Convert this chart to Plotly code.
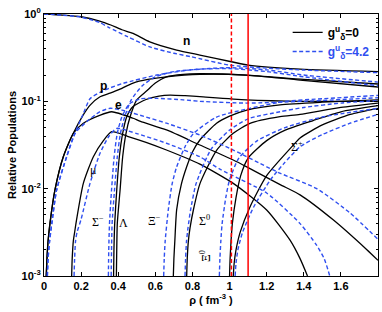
import plotly.graph_objects as go

# ---------------- data (x = density fm^-3, y = relative population) ----------------
n_black_x = [0, 0.1, 0.2, 0.3, 0.36, 0.42, 0.48, 0.57, 0.715, 0.84, 1.01, 1.1, 1.38, 1.8]
n_black_y = [1.0, 0.973, 0.93, 0.83, 0.748, 0.66, 0.60, 0.48, 0.387, 0.339, 0.284, 0.26, 0.234, 0.219]
n_blue_x = [0, 0.1, 0.2, 0.3, 0.35, 0.45, 0.57, 0.7, 0.79, 1.0, 1.2, 1.4, 1.8]
n_blue_y = [1.0, 0.97, 0.92, 0.80, 0.70, 0.55, 0.42, 0.355, 0.325, 0.26, 0.24, 0.228, 0.213]

p_black_x = [0.012, 0.016, 0.022, 0.032, 0.059, 0.104, 0.158, 0.21, 0.25, 0.30, 0.356, 0.40, 0.48, 0.56, 0.66, 0.84, 1.09, 1.38, 1.8]
p_black_y = [0.001, 0.00158, 0.00251, 0.00398, 0.00966, 0.0232, 0.0431, 0.0692, 0.0912, 0.112, 0.124, 0.135, 0.162, 0.178, 0.191, 0.204, 0.20, 0.175, 0.146]
p_blue_x = [0.018, 0.022, 0.03, 0.042, 0.068, 0.122, 0.167, 0.21, 0.248, 0.30, 0.35, 0.428, 0.608, 0.787, 1.0, 1.2, 1.4, 1.8]
p_blue_y = [0.001, 0.00158, 0.00251, 0.00398, 0.00966, 0.0232, 0.0431, 0.0708, 0.107, 0.126, 0.141, 0.161, 0.20, 0.229, 0.243, 0.229, 0.20, 0.166]

e_black_x = [0.012, 0.016, 0.022, 0.032, 0.059, 0.104, 0.158, 0.212, 0.30, 0.365, 0.48, 0.52, 0.66, 0.84, 1.02, 1.09, 1.27, 1.38, 1.56, 1.74, 1.8]
e_black_y = [0.001, 0.00158, 0.00251, 0.00398, 0.00966, 0.0232, 0.0431, 0.0562, 0.0692, 0.076, 0.064, 0.0589, 0.047, 0.0316, 0.0213, 0.0179, 0.0112, 0.0085, 0.00437, 0.002, 0.00151]
e_blue_x = [0.018, 0.022, 0.03, 0.042, 0.068, 0.122, 0.167, 0.23, 0.30, 0.356, 0.42, 0.55, 0.66, 0.84, 1.02, 1.2, 1.27, 1.47, 1.65, 1.8]
e_blue_y = [0.001, 0.00158, 0.00251, 0.00398, 0.00966, 0.0232, 0.0431, 0.0585, 0.0759, 0.0832, 0.0794, 0.0661, 0.0562, 0.0411, 0.0277, 0.0178, 0.0151, 0.01, 0.00525, 0.00263]

mu_black_x = [0.149, 0.152, 0.158, 0.165, 0.176, 0.212, 0.266, 0.32, 0.365, 0.45, 0.55, 0.66, 0.84, 1.02, 1.2, 1.326, 1.38, 1.42]
mu_black_y = [0.001, 0.00158, 0.00251, 0.00316, 0.00447, 0.0115, 0.0232, 0.0355, 0.0449, 0.0398, 0.0339, 0.0277, 0.0191, 0.0115, 0.0057, 0.00257, 0.00158, 0.001]
mu_blue_x = [0.162, 0.165, 0.17, 0.178, 0.20, 0.248, 0.302, 0.35, 0.392, 0.50, 0.66, 0.84, 0.95, 1.2, 1.38, 1.47, 1.51, 1.54]
mu_blue_y = [0.001, 0.00158, 0.00251, 0.00316, 0.00447, 0.0115, 0.0254, 0.0398, 0.049, 0.0427, 0.0331, 0.0232, 0.0166, 0.00891, 0.00398, 0.00224, 0.00158, 0.001]

sigm_black_x = [0.375, 0.377, 0.381, 0.392, 0.406, 0.424, 0.446, 0.48, 0.55, 0.62, 0.68, 0.76, 0.84, 1.09, 1.4, 1.8]
sigm_black_y = [0.001, 0.002, 0.00398, 0.00966, 0.0232, 0.0431, 0.0667, 0.0871, 0.105, 0.115, 0.118, 0.116, 0.113, 0.104, 0.1, 0.1]
sigm_blue_x = [0.347, 0.349, 0.353, 0.364, 0.378, 0.395, 0.42, 0.46, 0.52, 0.61, 0.75, 0.84, 1.09, 1.4, 1.8]
sigm_blue_y = [0.001, 0.002, 0.00398, 0.00966, 0.0232, 0.0431, 0.0667, 0.0933, 0.107, 0.108, 0.104, 0.1, 0.0955, 0.1, 0.11]

lam_black_x = [0.39, 0.392, 0.395, 0.41, 0.424, 0.442, 0.464, 0.50, 0.554, 0.60, 0.66, 0.75, 0.84, 1.09, 1.4, 1.8]
lam_black_y = [0.001, 0.002, 0.00398, 0.00966, 0.0232, 0.0431, 0.0667, 0.104, 0.132, 0.162, 0.191, 0.204, 0.207, 0.20, 0.178, 0.158]
lam_blue_x = [0.362, 0.364, 0.367, 0.38, 0.395, 0.412, 0.435, 0.47, 0.53, 0.60, 0.70, 0.85, 1.0, 1.2, 1.4, 1.8]
lam_blue_y = [0.001, 0.002, 0.00398, 0.00966, 0.0232, 0.0431, 0.0667, 0.104, 0.151, 0.191, 0.219, 0.234, 0.237, 0.219, 0.191, 0.151]

xim_black_x = [0.697, 0.700, 0.705, 0.715, 0.74, 0.769, 0.80, 0.841, 0.93, 1.0, 1.093, 1.272, 1.5, 1.8]
xim_black_y = [0.001, 0.00158, 0.00251, 0.00575, 0.0112, 0.0178, 0.0263, 0.0363, 0.0562, 0.0676, 0.0794, 0.0912, 0.0977, 0.104]
xim_blue_x = [0.645, 0.648, 0.653, 0.67, 0.69, 0.715, 0.76, 0.805, 0.93, 1.11, 1.3, 1.5, 1.8]
xim_blue_y = [0.001, 0.00158, 0.00251, 0.00575, 0.0112, 0.0178, 0.0302, 0.0427, 0.0661, 0.0832, 0.1, 0.107, 0.117]

sig0_black_x = [0.769, 0.772, 0.778, 0.787, 0.805, 0.841, 0.931, 1.02, 1.11, 1.272, 1.38, 1.6, 1.8]
sig0_black_y = [0.001, 0.00158, 0.00251, 0.00355, 0.0057, 0.0115, 0.0277, 0.0431, 0.056, 0.0667, 0.0708, 0.0851, 0.0955]
sig0_blue_x = [0.76, 0.763, 0.768, 0.776, 0.79, 0.82, 0.90, 1.0, 1.1, 1.272, 1.4, 1.6, 1.8]
sig0_blue_y = [0.001, 0.00158, 0.00251, 0.00355, 0.0057, 0.0115, 0.0282, 0.0468, 0.0631, 0.076, 0.0851, 0.0955, 0.102]

xi0_black_x = [1.0, 1.003, 1.008, 1.015, 1.035, 1.06, 1.1, 1.2, 1.3, 1.45, 1.6, 1.8]
xi0_black_y = [0.001, 0.00158, 0.00251, 0.00398, 0.00794, 0.0141, 0.0224, 0.0355, 0.0468, 0.0603, 0.0759, 0.0891]
xi0_blue_x = [0.945, 0.948, 0.953, 0.96, 0.98, 1.0, 1.05, 1.15, 1.3, 1.5, 1.8]
xi0_blue_y = [0.001, 0.00158, 0.00251, 0.00398, 0.00794, 0.0126, 0.0224, 0.0355, 0.0501, 0.0661, 0.0832]

sigp_black_x = [1.02, 1.025, 1.035, 1.057, 1.11, 1.2, 1.344, 1.38, 1.5, 1.65, 1.8]
sigp_black_y = [0.001, 0.00141, 0.002, 0.00316, 0.00617, 0.0141, 0.0316, 0.038, 0.0537, 0.0708, 0.0832]
sigp_blue_x = [1.03, 1.035, 1.045, 1.07, 1.13, 1.22, 1.29, 1.38, 1.5, 1.65, 1.8]
sigp_blue_y = [0.001, 0.00141, 0.002, 0.00316, 0.00617, 0.0126, 0.0191, 0.0302, 0.0417, 0.0562, 0.071]

red_dashed_x = 1.01
red_solid_x = 1.10

x_tickvals = [0, 0.2, 0.4, 0.6, 0.8, 1.0, 1.2, 1.4, 1.6]
x_ticktext = ["0", "0.2", "0.4", "0.6", "0.8", "1", "1.2", "1.4", "1.6"]
y_tickvals = [0.001, 0.01, 0.1, 1]
y_ticktext = ["10<sup>-3</sup>", "10<sup>-2</sup>", "10<sup>-1</sup>", "10<sup>0</sup>"]

# label texts with positions (x, log10 y)
labels = [
    ("n", 0.769, -0.31, "sans", 0),
    ("p", 0.32, -0.825, "sans", 0),
    ("e", 0.40, -1.04, "sans", 0),
    ("μ", 0.266, -1.79, "serif", 0),
    ("Σ<sup>−</sup>", 0.293, -2.38, "serif", 0),
    ("Λ", 0.431, -2.39, "serif", 0),
    ("Ξ<sup>−</sup>", 0.598, -2.37, "serif", 0),
    ("Σ<sup>0</sup>", 0.863, -2.37, "serif", 0),
    ("Ξ<sup>0</sup>", 0.873, -2.77, "serif", -90),
    ("Σ<sup>+</sup>", 1.362, -1.52, "serif", 0),
]

BLACK = "black"
BLUE = "#2f4ff0"

fig = go.Figure()

black_curves = [(n_black_x, n_black_y), (p_black_x, p_black_y), (e_black_x, e_black_y),
                (mu_black_x, mu_black_y), (sigm_black_x, sigm_black_y), (lam_black_x, lam_black_y),
                (xim_black_x, xim_black_y), (sig0_black_x, sig0_black_y), (xi0_black_x, xi0_black_y),
                (sigp_black_x, sigp_black_y)]
blue_curves = [(n_blue_x, n_blue_y), (p_blue_x, p_blue_y), (e_blue_x, e_blue_y),
               (mu_blue_x, mu_blue_y), (sigm_blue_x, sigm_blue_y), (lam_blue_x, lam_blue_y),
               (xim_blue_x, xim_blue_y), (sig0_blue_x, sig0_blue_y), (xi0_blue_x, xi0_blue_y),
               (sigp_blue_x, sigp_blue_y)]

for i, (xs, ys) in enumerate(black_curves):
    fig.add_trace(go.Scatter(x=xs, y=ys, mode="lines",
                             line=dict(color=BLACK, width=1.3, shape="spline", smoothing=0.6),
                             name="g<sup>u</sup><sub>δ</sub>=0", showlegend=(i == 0),
                             legendrank=1))
for i, (xs, ys) in enumerate(blue_curves):
    fig.add_trace(go.Scatter(x=xs, y=ys, mode="lines",
                             line=dict(color=BLUE, width=1.4, dash="4px,2.5px", shape="spline", smoothing=0.6),
                             name='<span style="color:%s">g<sup>u</sup><sub>δ</sub>=4.2</span>' % BLUE,
                             showlegend=(i == 0), legendrank=2))

fig.add_vline(x=red_dashed_x, line=dict(color="red", width=1.5, dash="4px,2.5px"))
fig.add_vline(x=red_solid_x, line=dict(color="red", width=1.5))

for txt, lx, ly, fam, ang in labels:
    fig.add_annotation(x=lx, y=ly, xref="x", yref="y", text=txt, showarrow=False,
                       textangle=ang,
                       font=dict(family="Liberation Sans" if fam == "sans" else "Liberation Serif",
                                 size=12, color="black",
                                 weight="bold" if fam == "sans" else "normal"))

axis_font = dict(family="Liberation Sans", size=11, color="black", weight="bold")

fig.update_layout(
    width=382, height=312,
    margin=dict(l=44, r=4, t=14, b=36, autoexpand=False),
    paper_bgcolor="white", plot_bgcolor="white",
    showlegend=True,
    legend=dict(x=0.99, y=0.985, xanchor="right", yanchor="top", bgcolor="rgba(0,0,0,0)",
                font=dict(family="Liberation Sans", size=12, color="black", weight="bold"),
                itemwidth=30, tracegroupgap=0),
    xaxis=dict(range=[0, 1.8], tickvals=x_tickvals, ticktext=x_ticktext, automargin=False,
               ticks="inside", ticklen=4, tickcolor="black", showline=True, linecolor="black",
               linewidth=1.2, mirror="ticks", showgrid=False, zeroline=False, tickfont=axis_font,
               title=dict(text="ρ ( fm<sup>-3</sup> )", font=dict(family="Liberation Sans", size=11,
                                                                    color="black", weight="bold"),
                          standoff=2)),
    yaxis=dict(type="log", range=[-3, 0], tickvals=y_tickvals, ticktext=y_ticktext, automargin=False,
               ticks="inside", ticklen=4, tickcolor="black", showline=True, linecolor="black",
               linewidth=1.2, mirror="ticks", showgrid=False, zeroline=False, tickfont=axis_font,
               minor=dict(ticks="inside", ticklen=2, tickcolor="black",
                          tickvals=[m * 10 ** k for k in (-3, -2, -1) for m in range(2, 10)]),
               title=dict(text="Relative Populations", font=dict(family="Liberation Sans", size=11,
                                                                 color="black", weight="bold"),
                          standoff=2)),
)

fig.write_html("out.html", config={"displayModeBar": False},
               post_script="document.body.style.margin='0px';document.body.style.overflow='hidden';")
